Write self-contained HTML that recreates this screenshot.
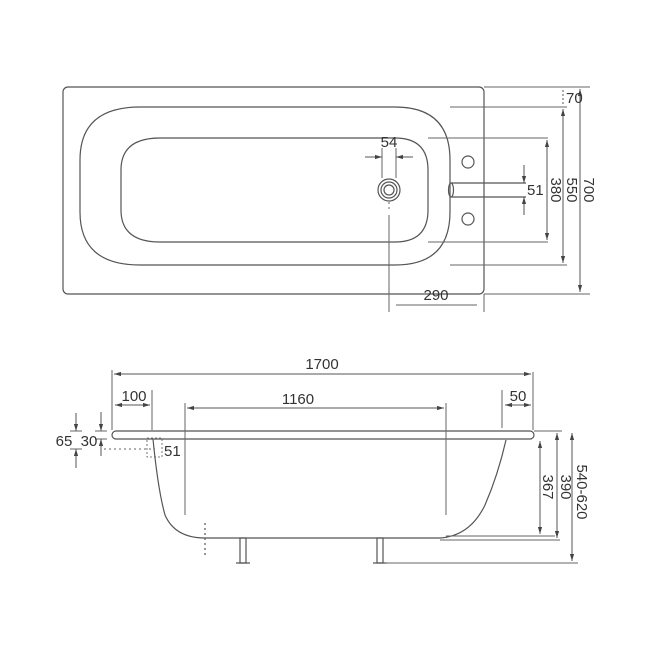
<!DOCTYPE html>
<html><head><style>body{margin:0;background:#fff}svg{display:block}text{font-family:"Liberation Sans",sans-serif;font-size:15px;fill:#333}</style></head>
<body>
<svg width="650" height="650" viewBox="0 0 650 650" xmlns="http://www.w3.org/2000/svg">
<defs>
<marker id="a" viewBox="0 0 10 10" refX="10" refY="5" markerWidth="7" markerHeight="7" orient="auto-start-reverse"><path d="M0,2 L10,5 L0,8z" fill="#444"/></marker>
</defs>
<g fill="none" stroke="#555" stroke-width="1.2">
<rect x="63" y="87" width="421" height="207" rx="5"/>
<path d="M140,107 H395 Q450,107 450,160 V212 Q450,265 395,265 H140 Q80,265 80,212 V160 Q80,107 140,107Z"/>
<path d="M160,138 H395 Q428,138 428,170 V210 Q428,242 395,242 H160 Q121,242 121,210 V170 Q121,138 160,138Z"/>
<circle cx="389" cy="190" r="11"/><circle cx="389" cy="190" r="8"/><circle cx="389" cy="190" r="5"/>
<circle cx="468" cy="162" r="6"/><circle cx="468" cy="219" r="6"/>
<path d="M451,183 H526 M451,197 H526"/><ellipse cx="451" cy="190" rx="2.5" ry="7"/>
<g stroke="#666" stroke-width="1">
<path d="M484,87 H590 M450,107 H567 M428,138 H548 M428,242 H548 M450,265 H567 M484,294 H590"/>
<path d="M382,148 V178 M396,148 V178"/>
<path d="M389,202 V212" stroke-dasharray="2 3"/>
<path d="M389,215 V312 M484,294 V312 M396,305 H477"/>
</g>
<g stroke="#555" stroke-width="1">
<line x1="365" y1="157" x2="382" y2="157" marker-end="url(#a)"/>
<line x1="413" y1="157" x2="396" y2="157" marker-end="url(#a)"/>
<line x1="563" y1="90" x2="563" y2="105" stroke-dasharray="2 2"/>
<line x1="563" y1="109" x2="563" y2="263" marker-start="url(#a)" marker-end="url(#a)"/>
<line x1="580" y1="89" x2="580" y2="292" marker-start="url(#a)" marker-end="url(#a)"/>
<line x1="547" y1="140" x2="547" y2="240" marker-start="url(#a)" marker-end="url(#a)"/>
<line x1="524" y1="165" x2="524" y2="183" marker-end="url(#a)"/>
<line x1="524" y1="215" x2="524" y2="197" marker-end="url(#a)"/>
</g>
<path d="M116,431 H530 A4,4 0 0 1 530,439 H116 A4,4 0 0 1 116,431Z"/>
<path d="M153,439 Q158,490 165,515 Q175,538 205,538 H440 Q470,536 485,505 Q498,475 506,440"/>
<rect x="147" y="438" width="15" height="19" stroke-dasharray="2 2" stroke-width="0.8"/>
<path d="M205,523 V556" stroke-dasharray="2 3"/>
<rect x="240" y="538" width="6" height="25"/><rect x="377" y="538" width="6" height="25"/>
<path d="M236,563 H250 M373,563 H387"/>
<g stroke="#666" stroke-width="1">
<path d="M112,370 V430 M533,372 V430 M152,390 V430 M185,403 V515 M446,403 V515 M502,390 V428"/>
<path d="M534,431 H562 M446,536 H555 M440,540 H560 M385,563 H578"/>
<path d="M70,431 H82 M70,449 H82 M95,431 H107 M95,439 H107"/>
<path d="M104,449 H155" stroke-dasharray="2 3"/>
</g>
<g stroke="#555" stroke-width="1">
<line x1="114" y1="374" x2="531" y2="374" marker-start="url(#a)" marker-end="url(#a)"/>
<line x1="115" y1="405" x2="150" y2="405" marker-start="url(#a)" marker-end="url(#a)"/>
<line x1="187" y1="408" x2="444" y2="408" marker-start="url(#a)" marker-end="url(#a)"/>
<line x1="505" y1="405" x2="531" y2="405" marker-start="url(#a)" marker-end="url(#a)"/>
<line x1="540" y1="441" x2="540" y2="534" marker-start="url(#a)" marker-end="url(#a)"/>
<line x1="557" y1="433" x2="557" y2="538" marker-start="url(#a)" marker-end="url(#a)"/>
<line x1="572" y1="433" x2="572" y2="561" marker-start="url(#a)" marker-end="url(#a)"/>
<line x1="76" y1="413" x2="76" y2="431" marker-end="url(#a)"/>
<line x1="76" y1="468" x2="76" y2="449" marker-end="url(#a)"/>
<line x1="101" y1="412" x2="101" y2="431" marker-end="url(#a)"/>
<line x1="101" y1="456" x2="101" y2="439" marker-end="url(#a)"/>
</g>
</g>
<text x="389" y="147" text-anchor="middle">54</text>
<text x="566" y="103">70</text>
<text x="527" y="195">51</text>
<text x="436" y="300" text-anchor="middle">290</text>
<text transform="translate(551,190) rotate(90)" text-anchor="middle">380</text>
<text transform="translate(567,190) rotate(90)" text-anchor="middle">550</text>
<text transform="translate(584,190) rotate(90)" text-anchor="middle">700</text>
<text x="322" y="369" text-anchor="middle">1700</text>
<text x="134" y="401" text-anchor="middle">100</text>
<text x="298" y="404" text-anchor="middle">1160</text>
<text x="518" y="401" text-anchor="middle">50</text>
<text x="64" y="446" text-anchor="middle">65</text>
<text x="89" y="446" text-anchor="middle">30</text>
<text x="164" y="456">51</text>
<text transform="translate(543,487) rotate(90)" text-anchor="middle">367</text>
<text transform="translate(561,487) rotate(90)" text-anchor="middle">390</text>
<text transform="translate(577,492) rotate(90)" text-anchor="middle">540-620</text>
</svg>
</body></html>
